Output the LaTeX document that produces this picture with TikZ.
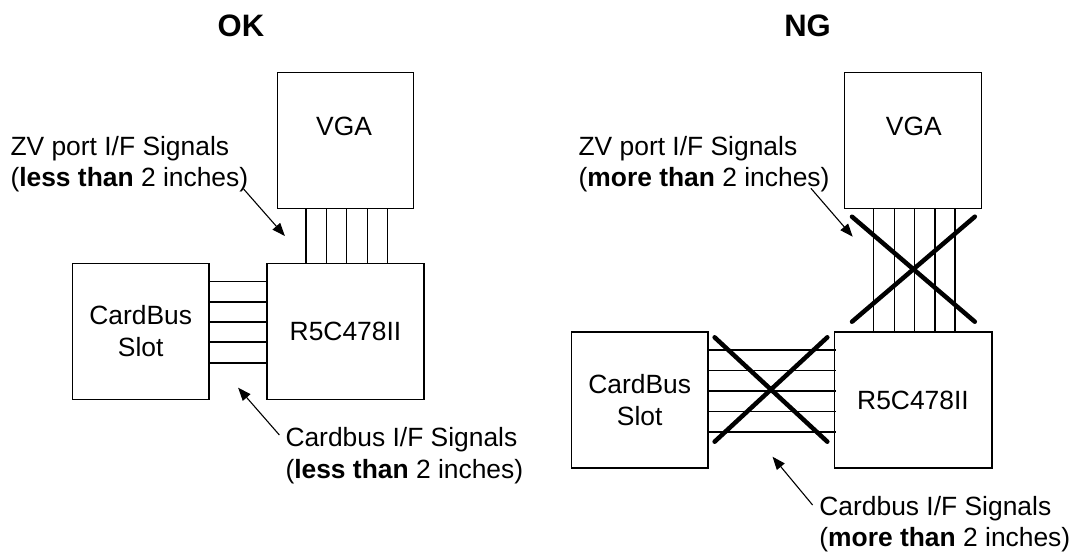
\documentclass[tikz,border=0pt]{standalone}
\usepackage{fontspec}
\setmainfont{Liberation Sans}
\usetikzlibrary{arrows.meta,calc}
\begin{document}
\begin{tikzpicture}[x=1pt,y=-1pt,
  lbl/.style={inner sep=0pt, font=\fontsize{26.4}{31}\selectfont},
  box/.style={draw, line width=1.3pt, inner sep=0pt, minimum height=136pt, align=center, font=\fontsize{26.4}{32}\selectfont},
  sig/.style={line width=1.2pt},
  ptr/.style={line width=1.1pt, -{Triangle[length=13pt,width=10pt]}},
  crossline/.style={line width=4.5pt, line cap=round},
  ttl/.style={inner sep=0pt, font=\fontsize{31}{36}\bfseries\selectfont}]
\useasboundingbox (0,0) rectangle (1078,552);

% ---------- OK ----------
\node[ttl, anchor=base] (okt) at (240.9,36) {OK};
\node[box, minimum width=136pt] (vgaL) at (345.3,140.3) {};
\node[lbl] (vgaLt) at (344.1,126) {VGA};
\node[box, minimum width=157pt] (r5cL) at (345.5,331.3) {R5C478II};
\node[box, minimum width=136.3pt] (cbL) at (140.7,331.3) {CardBus\\Slot};

\foreach \x in {305.9,326.2,346.5,367.2,387.5}
  \draw[sig] (\x,0 |- vgaL.south) -- (\x,0 |- r5cL.north);
\foreach \y in {281.3,302,322,342,363}
  \draw[sig] (cbL.east |- 0,\y) -- (r5cL.west |- 0,\y);

\node[lbl, anchor=base west] (zvL1) at (10.3,155) {ZV port I/F Signals};
\node[lbl, anchor=base west] (zvL2) at (10.3,186) {(\textbf{less than} 2 inches)};
\node[lbl, anchor=base west] (cbsL1) at (285.3,446.7) {Cardbus I/F Signals};
\node[lbl, anchor=base west] (cbsL2) at (285.3,478.3) {(\textbf{less than} 2 inches)};

\coordinate (zvLs) at (243.6,189);
\coordinate (zvLe) at (284.9,236);
\coordinate (cbLs) at (279.4,435);
\coordinate (cbLe) at (238.1,387.7);
\draw[ptr] (zvLs) -- (zvLe);
\draw[ptr] (cbLs) -- (cbLe);

% ---------- NG ----------
\node[ttl, anchor=base] (ngt) at (807.5,36) {NG};
\node[box, minimum width=136.5pt] (vgaR) at (913,140.3) {};
\node[lbl] (vgaRt) at (913.8,126) {VGA};
\node[box, minimum width=157.7pt] (r5cR) at (913,400) {R5C478II};
\node[box, minimum width=136.3pt] (cbR) at (639.7,400) {CardBus\\Slot};

\foreach \x in {873.6,894.2,914.4,935,954.9}
  \draw[sig] (\x,0 |- vgaR.south) -- (\x,0 |- r5cR.north);
\foreach \y in {350,370.7,391,411.7,432}
  \draw[sig] (cbR.east |- 0,\y) -- ([xshift=2pt]r5cR.west |- 0,\y);

\draw[crossline] (714.6,337.3) -- (827.3,441.7);
\draw[crossline] (714.6,441.7) -- (827.3,337.3);
\draw[crossline] (852,216.7) -- (974.8,321.7);
\draw[crossline] (974.8,216.7) -- (852,321.7);

\node[lbl, anchor=base west] (zvR1) at (578.4,155) {ZV port I/F Signals};
\node[lbl, anchor=base west] (zvR2) at (578.4,186) {(\textbf{more than} 2 inches)};
\node[lbl, anchor=base west] (cbsR1) at (819.2,515) {Cardbus I/F Signals};
\node[lbl, anchor=base west] (cbsR2) at (819.2,546.7) {(\textbf{more than} 2 inches)};

\coordinate (zvRs) at (810.9,188.3);
\coordinate (zvRe) at (852.7,236.7);
\coordinate (cbRs) at (812.6,505);
\coordinate (cbRe) at (772.5,456.7);
\draw[ptr] (zvRs) -- (zvRe);
\draw[ptr] (cbRs) -- (cbRe);
\end{tikzpicture}
\end{document}
